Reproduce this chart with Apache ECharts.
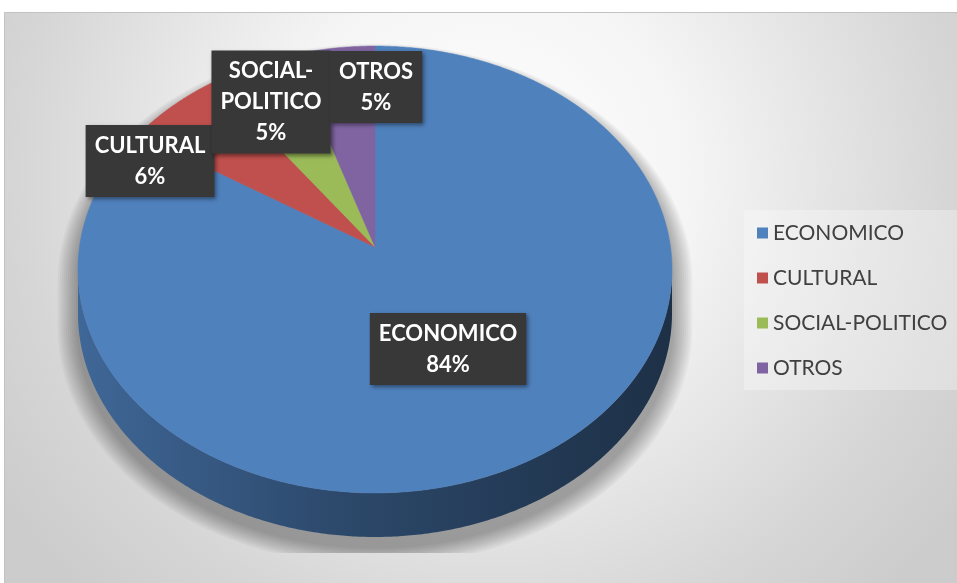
<!DOCTYPE html>
<html>
<head>
<meta charset="utf-8">
<script src="https://cdn.jsdelivr.net/npm/echarts@6/dist/echarts.min.js"></script>
<style>
  html, body { margin: 0; padding: 0; background: #ffffff; }
  #chart { width: 957px; height: 583px; }
</style>
</head>
<body>
<div id="chart"></div>
<script>
// Data
const categories = ['ECONOMICO', 'CULTURAL', 'SOCIAL-POLITICO', 'OTROS'];
const percentages = [84, 6, 5, 5];
const labelLines = [['ECONOMICO'], ['CULTURAL'], ['SOCIAL-', 'POLITICO'], ['OTROS']];

// Styles
const colors = ['#4F81BD', '#C0504D', '#9BBB59', '#8064A2'];
const FONT = 'Lato, "Open Sans", sans-serif';

// Pie geometry in screen px: projected centre, rim half-axes, perspective factor, wall height
const PIE = { cx: 375, cy: 247, a: 295.5, b: 221.2, k: 0.1007, depth: 44 };
// Label box centres (layout)
const labelCenters = [[448, 349], [150, 161], [271, 102], [376, 87]];
// Drop shadow: offset, spread, layer count, per-layer opacity, lower cut-off
const SHADOW = { dy: 10, spread: 20, layers: 10, alpha: 0.034, floor: 553 };

const total = percentages.reduce((s, v) => s + v, 0);
const starts = [];
percentages.reduce((acc, v, i) => { starts[i] = acc; return acc + v; }, 0);

// theta: radians clockwise from 12 o'clock; r: fraction of radius; dy: vertical drop
function project(theta, r, dy) {
  const u = r * Math.sin(theta), v = r * Math.cos(theta);
  const w = 1 + PIE.k * v;
  return [PIE.cx + PIE.a * u / w, PIE.cy - PIE.b * v / w + (dy || 0)];
}
function rim(a, b, dy, r) {
  const pts = [];
  const n = Math.max(2, Math.ceil(Math.abs(b - a) / (Math.PI / 360)));
  for (let j = 0; j <= n; j++) pts.push(project(a + (b - a) * j / n, r || 1, dy));
  return pts;
}
function shade(hex, f) {
  const c = echarts.color.parse(hex);
  return 'rgb(' + c.slice(0, 3).map(x => Math.round(x * f)).join(',') + ')';
}
// angle of the left/right silhouette for a rim of relative radius r
function sideAngle(r) { return Math.acos(-PIE.k * r); }
const frontA = sideAngle(1);
const frontB = 2 * Math.PI - frontA;

function renderSlice(params, api) {
  const i = api.value(1);
  const value = api.value(0);
  const s = starts[i] / total * 2 * Math.PI;
  const e = (starts[i] + value) / total * 2 * Math.PI;
  const color = colors[i];
  const children = [];

  // visible outer wall
  const a = Math.max(s, frontA), b = Math.min(e, frontB);
  if (a < b) {
    const pts = rim(a, b, 0).concat(rim(b, a, PIE.depth));
    children.push({
      type: 'polygon',
      shape: { points: pts },
      style: {
        fill: new echarts.graphic.LinearGradient(0, 0, 1, 0, [
          { offset: 0, color: shade(color, 0.8) },
          { offset: 0.45, color: shade(color, 0.56) },
          { offset: 1, color: shade(color, 0.37) }
        ]),
        stroke: null
      }
    });
  }

  // top face
  const top = [[PIE.cx, PIE.cy]].concat(rim(s, e, 0));
  children.push({
    type: 'polygon',
    shape: { points: top },
    style: { fill: color, stroke: color, lineWidth: 0.5 }
  });

  // data label
  const c = labelCenters[i];
  children.push({
    type: 'text',
    x: c[0], y: c[1],
    z2: 100,
    style: {
      text: labelLines[i].concat([value + '%']).join('\n'),
      fill: '#ffffff',
      font: 'bold 22px ' + FONT,
      lineHeight: 31,
      align: 'center',
      verticalAlign: 'middle',
      backgroundColor: '#383838',
      padding: [6, 9, 4, 9],
      shadowBlur: 4,
      shadowOffsetX: 2,
      shadowOffsetY: 2,
      shadowColor: 'rgba(0,0,0,0.45)'
    }
  });
  return { type: 'group', children: children };
}

// Soft drop shadow of the disc, built from stacked translucent outlines
function renderBase() {
  const layers = [];
  for (let j = SHADOW.layers; j >= 1; j--) {
    const grow = 1 + (SHADOW.spread * j / SHADOW.layers) / PIE.a;
    const sa = sideAngle(grow), sb = 2 * Math.PI - sa;
    // back arc left -> top -> right, then front arc right -> bottom -> left
    const outline = rim(-sa, sa, SHADOW.dy, grow)
      .concat(rim(sa, sb, PIE.depth + SHADOW.dy, grow))
      .map(p => [p[0], Math.min(p[1], SHADOW.floor)]);
    layers.push({
      type: 'polygon',
      shape: { points: outline },
      style: { fill: 'rgba(0,0,0,' + SHADOW.alpha + ')', stroke: null }
    });
  }
  return { type: 'group', children: layers };
}

const series = [{
  type: 'custom',
  name: 'base',
  coordinateSystem: 'none',
  z: 1,
  silent: true,
  renderItem: renderBase,
  data: [[0]]
}].concat(categories.map((name, i) => ({
  type: 'custom',
  name: name,
  coordinateSystem: 'none',
  itemStyle: { color: colors[i] },
  renderItem: renderSlice,
  data: [[percentages[i], i]]
})));

const chart = echarts.init(document.getElementById('chart'), null, { renderer: 'canvas' });
chart.setOption({
  animation: false,
  graphic: [{
    type: 'rect',
    z: -10,
    silent: true,
    shape: { x: 4.5, y: 12.5, width: 960, height: 580 },
    style: {
      fill: new echarts.graphic.RadialGradient(0.5, 0.28, 1.0, [
        { offset: 0, color: '#ffffff' },
        { offset: 0.35, color: '#f5f5f5' },
        { offset: 0.8, color: '#d6d6d6' },
        { offset: 1, color: '#cccccc' }
      ]),
      stroke: '#c2c2c2',
      lineWidth: 1
    }
  }],
  legend: {
    data: categories,
    orient: 'vertical',
    left: 744,
    top: 210,
    padding: [11, 19, 10, 13],
    itemGap: 21,
    itemWidth: 11,
    itemHeight: 11,
    icon: 'rect',
    selectedMode: false,
    backgroundColor: 'rgba(255,255,255,0.3)',
    textStyle: { fontFamily: FONT, fontSize: 21, color: '#404040', lineHeight: 24 }
  },
  series: series
});
</script>
</body>
</html>
